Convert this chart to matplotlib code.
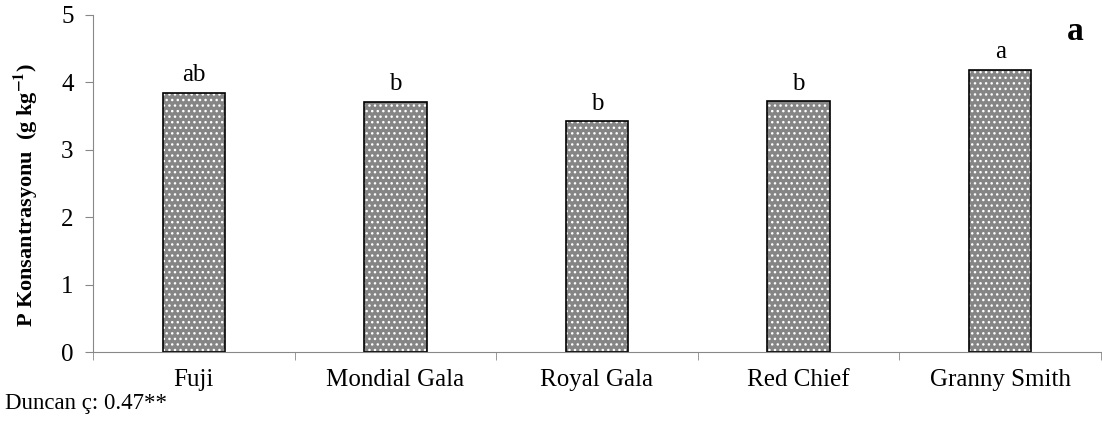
import matplotlib.pyplot as plt
import numpy as np

plt.rcParams['font.family'] = ['Liberation Serif', 'DejaVu Serif']
plt.rcParams['mathtext.fontset'] = 'stix'

cesitler = ['Fuji', 'Mondial Gala', 'Royal Gala', 'Red Chief', 'Granny Smith']
p_deger = [3.85, 3.71, 3.42, 3.72, 4.19]
harfler = ['ab', 'b', 'b', 'b', 'a']

fig = plt.figure(figsize=(11.02, 4.23), dpi=100)
ax = fig.add_axes([93/1102, (423-352)/423, (1101-93)/1102, 337/423])

x = np.arange(len(cesitler))
# doku: gri zemin + beyaz noktalar
ax.bar(x, p_deger, width=0.31, color='#858585', edgecolor='white', hatch='...', linewidth=0)
ax.bar(x, p_deger, width=0.31, fill=False, edgecolor='black', linewidth=1.2)

for i, h in enumerate(harfler):
    ax.text(x[i], p_deger[i] + 0.1, h, ha='center', va='bottom', fontsize=18)

ax.set_xlim(-0.5, 4.5)
ax.set_ylim(0, 5)
ax.set_yticks([0, 1, 2, 3, 4, 5])
ax.set_xticks(x)
ax.set_xticklabels(cesitler, fontsize=18)
ax.tick_params(axis='y', labelsize=18, color='#888888', length=6, direction='out', pad=8)
ax.tick_params(axis='x', length=0, pad=12)
ax.set_xticks(np.arange(-0.5, 5, 1), minor=True)
ax.tick_params(axis='x', which='minor', length=6, color='#888888')
for s in ['top', 'right']:
    ax.spines[s].set_visible(False)
for s in ['left', 'bottom']:
    ax.spines[s].set_color('#888888')
ax.set_ylabel('P Konsantrasyonu  (g kg$^{\\mathbf{-1}}$)', fontsize=16, fontweight='bold')
ax.yaxis.set_label_coords(-(93 - 40) / 1008, (352 - 195) / 337)

fig.text(1075/1102, 1 - 32/423, 'a', fontsize=24, fontweight='bold', ha='center', va='center')
fig.text(5/1102, 1 - 403/423, 'Duncan ç: 0.47**', fontsize=16.5, ha='left', va='center')

plt.savefig('out.png', dpi=100)
